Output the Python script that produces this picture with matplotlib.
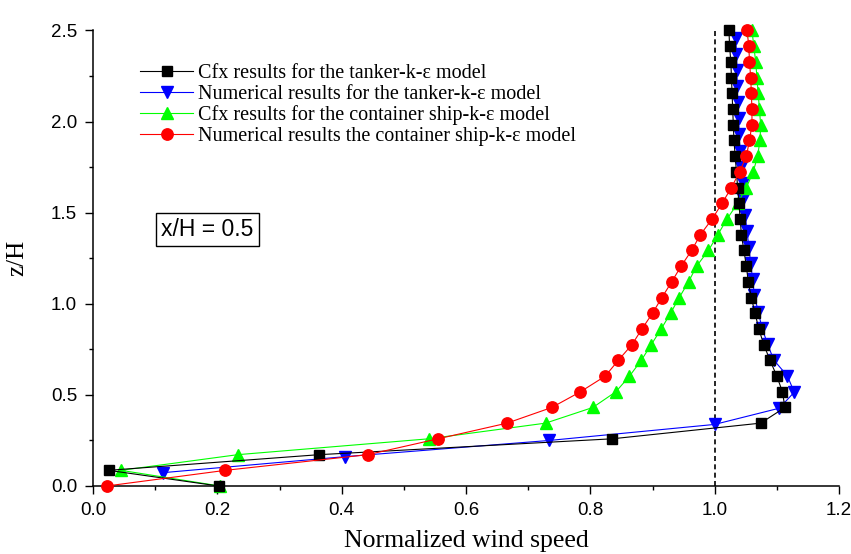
import matplotlib
matplotlib.use("Agg")
import matplotlib.pyplot as plt
from matplotlib.ticker import MultipleLocator

# ---- data ----
z_grid = [0.000, 0.086, 0.172, 0.259, 0.345, 0.431, 0.517, 0.603, 0.690, 0.776,
          0.862, 0.948, 1.034, 1.121, 1.207, 1.293, 1.379, 1.466, 1.552, 1.638,
          1.724, 1.810, 1.897, 1.983, 2.069, 2.155, 2.241, 2.328, 2.414, 2.500]

cfx_tanker = [0.202, 0.025, 0.364, 0.835, 1.074, 1.113, 1.109, 1.100, 1.089, 1.079,
              1.071, 1.065, 1.059, 1.054, 1.051, 1.047, 1.043, 1.041, 1.039, 1.037,
              1.035, 1.033, 1.031, 1.030, 1.029, 1.028, 1.027, 1.026, 1.024, 1.023]

z_num_tanker = [0.073, 0.161, 0.250, 0.338, 0.427, 0.515, 0.604, 0.692, 0.780, 0.869,
                0.957, 1.046, 1.134, 1.222, 1.311, 1.399, 1.488, 1.576, 1.664, 1.753,
                1.841, 1.930, 2.018, 2.106, 2.195, 2.283, 2.372, 2.460]
num_tanker = [0.112, 0.405, 0.734, 1.000, 1.104, 1.128, 1.117, 1.095, 1.085, 1.076,
              1.070, 1.064, 1.061, 1.058, 1.055, 1.052, 1.049, 1.046, 1.045, 1.042,
              1.041, 1.039, 1.039, 1.037, 1.036, 1.036, 1.035, 1.034]

cfx_container = [0.204, 0.045, 0.233, 0.540, 0.728, 0.804, 0.841, 0.863, 0.882, 0.898,
                 0.914, 0.929, 0.943, 0.958, 0.971, 0.990, 1.005, 1.020, 1.037, 1.051,
                 1.062, 1.069, 1.073, 1.074, 1.072, 1.070, 1.068, 1.066, 1.063, 1.060]

num_container = [0.022, 0.213, 0.442, 0.555, 0.666, 0.738, 0.784, 0.824, 0.845, 0.867,
                 0.883, 0.900, 0.915, 0.931, 0.946, 0.963, 0.977, 0.996, 1.012, 1.027,
                 1.040, 1.051, 1.056, 1.060, 1.060, 1.059, 1.058, 1.056, 1.055, 1.052]

labels = ["Cfx results for the tanker-k-\u03b5 model",
          "Numerical results for the tanker-k-\u03b5 model",
          "Cfx results for the container ship-k-\u03b5 model",
          "Numerical results the container ship-k-\u03b5 model"]

x_ticks = [0.0, 0.2, 0.4, 0.6, 0.8, 1.0, 1.2]
y_ticks = [0.0, 0.5, 1.0, 1.5, 2.0, 2.5]

SERIF = "Liberation Serif"
SANS = "Liberation Sans"

fig = plt.figure(figsize=(8.51, 5.54), dpi=100)
ax = fig.add_axes([93 / 851, 1 - 486 / 554, 746 / 851, 455.5 / 554])

lw = 0.8
h_black, = ax.plot(cfx_tanker, z_grid, color="black", lw=lw, marker="s",
                   ms=7.8, mec="black", mfc="black", zorder=4, clip_on=False)
h_blue, = ax.plot(num_tanker, z_num_tanker, color="blue", lw=lw, marker="v",
                  ms=9, mec="blue", mfc="blue", zorder=2, clip_on=False)
h_green, = ax.plot(cfx_container, z_grid, color="#00ff00", lw=lw, marker="^",
                   ms=9, mec="#00ff00", mfc="#00ff00", zorder=3, clip_on=False)
h_red, = ax.plot(num_container, z_grid, color="red", lw=lw, marker="o",
                 ms=8.2, mec="red", mfc="red", zorder=5, clip_on=False)

ax.axvline(1.0, color="black", lw=1.2, ls=(0, (3, 2)), zorder=1)

ax.set_xlim(0, 1.2)
ax.set_ylim(0, 2.5)
ax.set_xticks(x_ticks)
ax.set_yticks(y_ticks)
ax.set_xticklabels([f"{v:.1f}" for v in x_ticks], fontfamily=SANS, fontsize=13.5)
ax.set_yticklabels([f"{v:.1f}" for v in y_ticks], fontfamily=SANS, fontsize=13.5)
ax.xaxis.set_minor_locator(MultipleLocator(0.1))
ax.yaxis.set_minor_locator(MultipleLocator(0.25))
ax.tick_params(which="major", direction="out", length=5.5, width=1.0, pad=6)
ax.tick_params(which="minor", direction="out", length=3.2, width=1.0)

for s in ["top", "right"]:
    ax.spines[s].set_visible(False)
for s in ["left", "bottom"]:
    ax.spines[s].set_linewidth(1.1)

ax.set_xlabel("Normalized wind speed", fontfamily=SERIF, fontsize=18.5, labelpad=8)
ax.set_ylabel("z/H", fontfamily=SERIF, fontsize=18, labelpad=16)

leg = ax.legend([h_black, h_blue, h_green, h_red], labels,
                loc="upper left", bbox_to_anchor=((140 - 93) / 746, (486 - 64) / 455.5),
                frameon=False, borderpad=0, borderaxespad=0,
                handlelength=2.65, handletextpad=0.25, labelspacing=0.08,
                prop={"family": SERIF, "size": 14.5})

ax.text(0.184, 1.41, "x/H = 0.5", fontfamily=SANS, fontsize=16.5,
        ha="center", va="center",
        bbox=dict(boxstyle="square,pad=0.22", fc="white", ec="black", lw=1.0))

fig.savefig("out.png", dpi=100)
